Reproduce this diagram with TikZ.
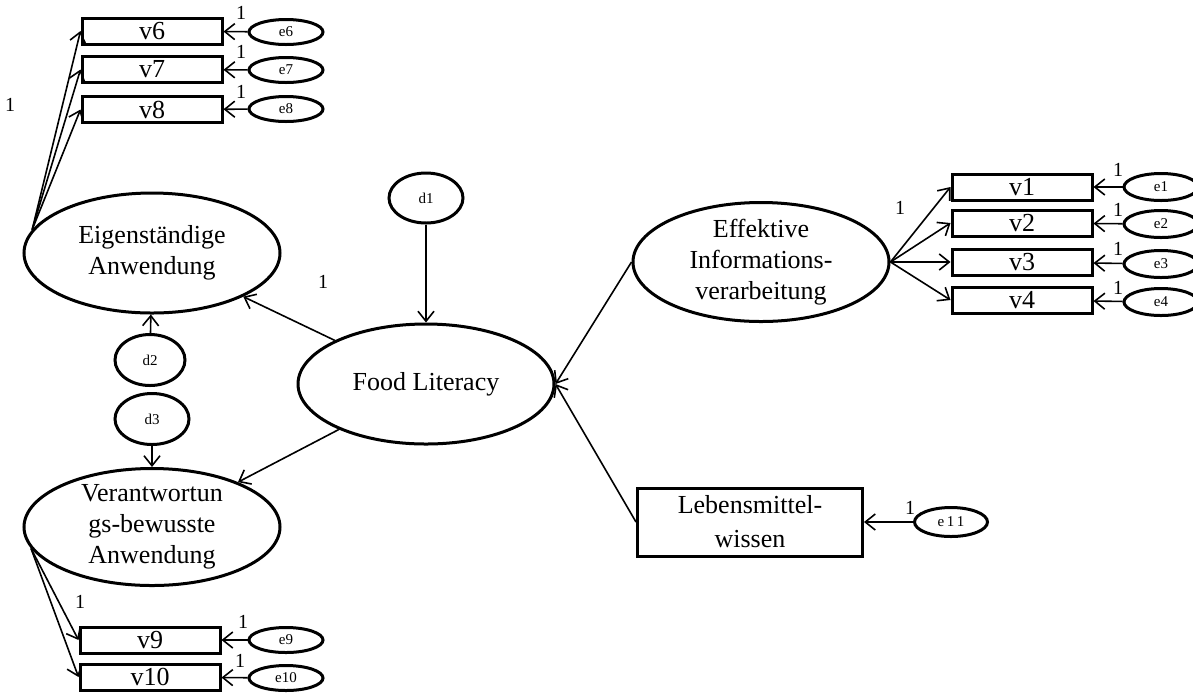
\documentclass[tikz,border=0pt]{standalone}
\usepackage{fontspec}
\setmainfont{Liberation Serif}
\usetikzlibrary{arrows.meta,shapes.geometric}

\begin{document}
\begin{tikzpicture}[x=0.5pt,y=-0.5pt,
  latent/.style={draw,ellipse,line width=1.5pt,inner sep=0pt,align=center,
    minimum width=128pt,minimum height=60pt,font=\fontsize{13}{15.5}\selectfont},
  indicator/.style={draw,rectangle,line width=1.5pt,inner sep=0pt,align=center,
    minimum width=70pt,minimum height=13pt,font=\fontsize{13}{15}\selectfont},
  errvar/.style={draw,ellipse,line width=1.5pt,inner sep=0pt,
    minimum width=37pt,minimum height=12.5pt,font=\fontsize{7.5}{9}\selectfont},
  disturb/.style={errvar,minimum height=25pt},
  regpath/.style={line width=0.8pt,-{Straight Barb[length=5pt,width=8pt]}},
  wt/.style={inner sep=0pt,font=\fontsize{10}{12}\selectfont}
]
  \useasboundingbox (0,0) rectangle (1193,692);

  \node[latent] (fl) at (426,384) {Food Literacy};
  \node[latent] (eig) at (152,253) {Eigenständige\\Anwendung};
  \node[latent,inner ysep=-3pt,minimum height=58.5pt] (ver) at (152,527)
    {Verantwortun\\gs-bewusste\\Anwendung};
  \node[latent,inner ysep=-3pt,minimum height=59.5pt] (eff) at (761,262)
    {Effektive\\Informations-\\verarbeitung};
  \node[indicator,minimum width=112.5pt,minimum height=34pt,
    font=\fontsize{13}{17}\selectfont] (leb) at (750,522) {Lebensmittel-\\wissen};

  \node[disturb] (d1) at (426,198) {d1};
  \node[disturb,minimum width=35pt,minimum height=25.5pt] (d2) at (150,360) {d2};
  \node[disturb,minimum height=25.5pt] (d3) at (152,419) {d3};

  \node[indicator] (v6) at (152,31) {v6};
  \node[indicator] (v7) at (152,69.5) {v7};
  \node[indicator] (v8) at (152,109.5) {v8};
  \node[indicator] (v1) at (1022,187) {v1};
  \node[indicator] (v2) at (1022,223) {v2};
  \node[indicator] (v3) at (1022,262) {v3};
  \node[indicator] (v4) at (1022,300) {v4};
  \node[indicator] (v9) at (150,640) {v9};
  \node[indicator] (v10) at (150,677) {v10};

  \node[errvar] (e6) at (286,32) {e6};
  \node[errvar] (e7) at (286,70) {e7};
  \node[errvar] (e8) at (286,109) {e8};
  \node[errvar,minimum height=13.5pt] (e1) at (1161,187) {e1};
  \node[errvar,minimum height=13.5pt] (e2) at (1161,224) {e2};
  \node[errvar,minimum height=13.5pt] (e3) at (1161,264) {e3};
  \node[errvar,minimum height=13.5pt] (e4) at (1161,302) {e4};
  \node[errvar] (e9) at (286,640) {e9};
  \node[errvar] (e10) at (286,678) {e10};
  \node[errvar,minimum width=36.5pt,minimum height=14.5pt] (e11) at (951,522) {e\,1\,1};

  \draw[regpath] (d1) -- (fl);
  \draw[regpath] (d2) -- (eig);
  \draw[regpath] (d3) -- (ver);
  \draw[regpath] (fl) -- (eig);
  \draw[regpath] (fl) -- (ver);
  \draw[regpath] (eff.west) -- (fl.east);
  \draw[regpath] (leb.west) -- (fl.east);
  \draw[regpath] (e11) -- (leb);

  \draw[regpath] (eig.169) -- (v6.west);
  \draw[regpath] (eig.169) -- (v7.west);
  \draw[regpath] (eig.169) -- (v8.west);
  \draw[regpath] (eff.east) -- (v1.west);
  \draw[regpath] (eff.east) -- (v2.west);
  \draw[regpath] (eff.east) -- (v3.west);
  \draw[regpath] (eff.east) -- (v4.west);
  \draw[regpath] (ver.190) -- (v9.west);
  \draw[regpath] (ver.190) -- (v10.west);

  \draw[regpath] (e6) -- (v6);
  \draw[regpath] (e7) -- (v7);
  \draw[regpath] (e8) -- (v8);
  \draw[regpath] (e1) -- (v1);
  \draw[regpath] (e2) -- (v2);
  \draw[regpath] (e3) -- (v3);
  \draw[regpath] (e4) -- (v4);
  \draw[regpath] (e9) -- (v9);
  \draw[regpath] (e10) -- (v10);

  \node[wt] (w6) at (241,13) {1};
  \node[wt] (w7) at (241,52) {1};
  \node[wt] (w8) at (241,92) {1};
  \node[wt] (weig) at (10,105) {1};
  \node[wt] (wfl) at (323,282) {1};
  \node[wt] (weff) at (900,208) {1};
  \node[wt] (w1) at (1118,170) {1};
  \node[wt] (w2) at (1118,210) {1};
  \node[wt] (w3) at (1118,249) {1};
  \node[wt] (w4) at (1118,288) {1};
  \node[wt] (w11) at (910,508) {1};
  \node[wt] (wver) at (80,602) {1};
  \node[wt] (w9) at (243,622) {1};
  \node[wt] (w10) at (240,661) {1};
\end{tikzpicture}
\end{document}
